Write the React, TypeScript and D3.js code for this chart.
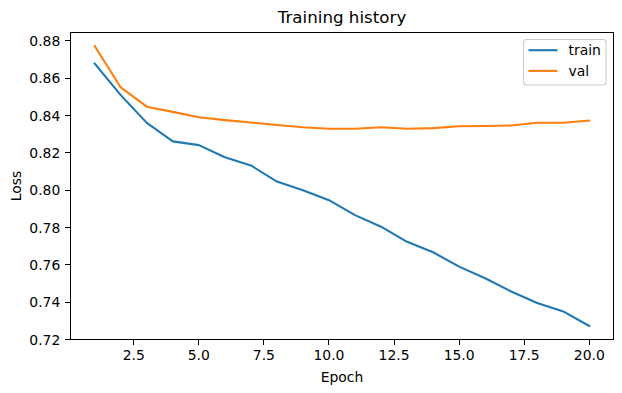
import React from "react";
import * as d3 from "d3";

const epochs = [1, 2, 3, 4, 5, 6, 7, 8, 9, 10, 11, 12, 13, 14, 15, 16, 17, 18, 19, 20];
const trainLoss = [0.8679, 0.8510, 0.8361, 0.8262, 0.8242, 0.8177, 0.8133, 0.8047, 0.8000, 0.7947, 0.7867, 0.7805, 0.7724, 0.7668, 0.7591, 0.7529, 0.7458, 0.7396, 0.7351, 0.7273];
const valLoss = [0.8773, 0.8551, 0.8448, 0.8420, 0.8391, 0.8376, 0.8363, 0.8350, 0.8338, 0.8330, 0.8330, 0.8338, 0.8330, 0.8333, 0.8343, 0.8344, 0.8347, 0.8362, 0.8362, 0.8373];
const xTicks = [2.5, 5, 7.5, 10, 12.5, 15, 17.5, 20];
const yTicks = [0.72, 0.74, 0.76, 0.78, 0.8, 0.82, 0.84, 0.86, 0.88];
const seriesNames = ["train", "val"];
const colors = ["#1f77b4", "#ff7f0e"];

const W = 622;
const H = 393;
const margin = { left: 70, right: 8, top: 32, bottom: 53 };
const font = "DejaVu Sans, sans-serif";

export default function App() {
  const allVals = [...trainLoss, ...valLoss];
  const [yMin, yMax] = d3.extent(allVals) as [number, number];
  const yPad = (yMax - yMin) * 0.05;
  const xPad = (20 - 1) * 0.05;

  const x = d3.scaleLinear()
    .domain([1 - xPad, 20 + xPad])
    .range([margin.left, W - margin.right]);
  const y = d3.scaleLinear()
    .domain([yMin - yPad, yMax + yPad])
    .range([H - margin.bottom, margin.top]);

  const line = d3.line<number>()
    .x((_, i) => x(epochs[i]))
    .y((d) => y(d));

  const x0 = margin.left;
  const x1 = W - margin.right;
  const y0 = H - margin.bottom;
  const y1 = margin.top;
  const tickLen = 4.86;

  // legend box
  const lgX = 523.5;
  const lgY = 39.5;

  return (
    <svg width={W} height={H} style={{ position: "absolute", left: 0, top: 0, background: "#fff" }}>
      <rect width={W} height={H} fill="#fff" />
      {[trainLoss, valLoss].map((s, k) => (
        <path key={k} d={line(s) || ""} fill="none" stroke={colors[k]} strokeWidth={2.08} strokeLinejoin="round" strokeLinecap="square" />
      ))}

      {/* frame */}
      <rect x={x0 + 0.5} y={y1 + 0.5} width={x1 - x0 - 1} height={y0 - y1 - 1} fill="none" stroke="#000" strokeWidth={1} shapeRendering="crispEdges" />

      {/* y axis */}
      {yTicks.map((t) => (
        <g key={t}>
          <line x1={x0 - tickLen} x2={x0} y1={y(t)} y2={y(t)} stroke="#000" strokeWidth={1} shapeRendering="crispEdges" />
          <text x={x0 - tickLen - 4.9} y={y(t)} dy="0.36em" textAnchor="end" fontFamily={font} fontSize={13.9}>
            {t.toFixed(2)}
          </text>
        </g>
      ))}

      {/* x axis */}
      {xTicks.map((t) => (
        <g key={t}>
          <line x1={x(t)} x2={x(t)} y1={y0} y2={y0 + tickLen} stroke="#000" strokeWidth={1} shapeRendering="crispEdges" />
          <text x={x(t)} y={y0 + tickLen + 4.9 + 10.4} textAnchor="middle" fontFamily={font} fontSize={13.9}>
            {t.toFixed(1)}
          </text>
        </g>
      ))}

      <text x={(x0 + x1) / 2} y={23} textAnchor="middle" fontFamily={font} fontSize={16.7}>Training history</text>
      <text x={(x0 + x1) / 2} y={382} textAnchor="middle" fontFamily={font} fontSize={13.9}>Epoch</text>
      <text transform={`translate(21,${(y0 + y1) / 2}) rotate(-90)`} textAnchor="middle" fontFamily={font} fontSize={13.9}>Loss</text>

      {/* legend */}
      <rect x={lgX} y={lgY} width={82.5} height={45.5} rx={3} fill="#fff" fillOpacity={0.8} stroke="#cccccc" strokeWidth={1.1} />
      {seriesNames.map((n, k) => (
        <g key={n}>
          <line x1={lgX + 5} x2={lgX + 34} y1={lgY + 10.7 + k * 20.7} y2={lgY + 10.7 + k * 20.7} stroke={colors[k]} strokeWidth={2.08} />
          <text x={lgX + 45} y={lgY + 10.7 + k * 20.7} dy="0.36em" fontFamily={font} fontSize={13.9}>{n}</text>
        </g>
      ))}
    </svg>
  );
}
